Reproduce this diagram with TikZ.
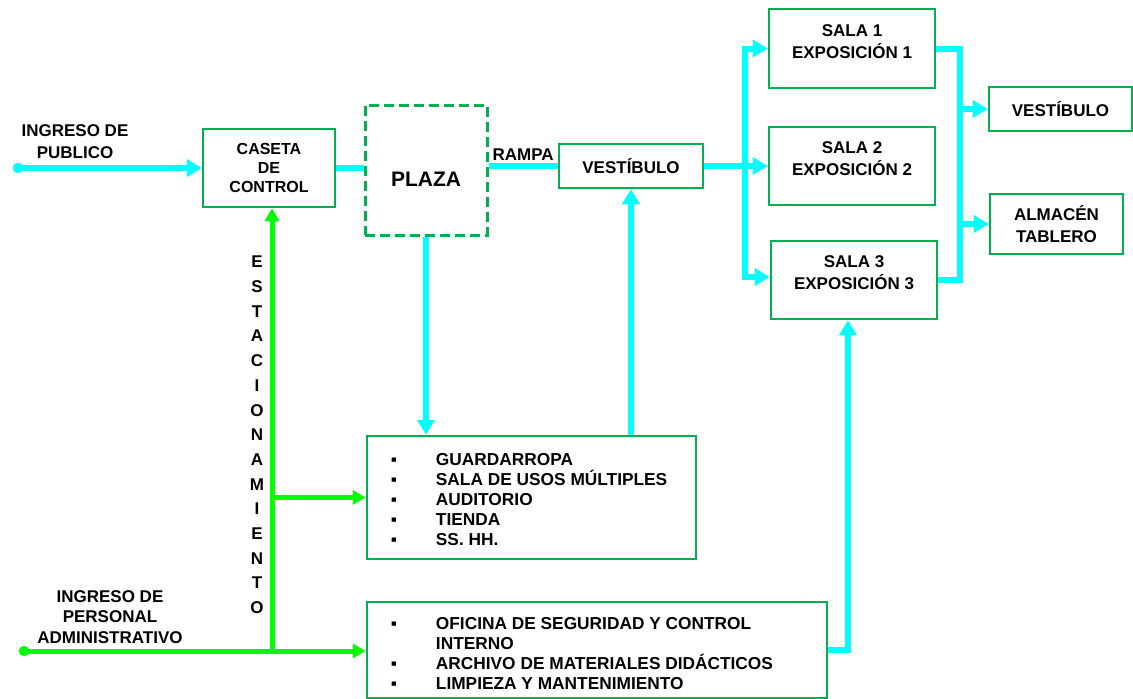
\documentclass[tikz,border=0pt]{standalone}
\usepackage{fontspec}
\setmainfont{Liberation Sans}
\usepackage{xcolor}
\definecolor{cBox}{HTML}{00B050}
\definecolor{cCyan}{HTML}{00FFFF}
\definecolor{cLime}{HTML}{00FF00}
\usepackage{tikz}
\usetikzlibrary{positioning,arrows.meta,calc}
\tikzset{
  node-box/.style={draw=cBox,line width=2.5pt,inner sep=0pt,align=center,
    font=\fontsize{17}{22}\selectfont\bfseries},
  node-plaza/.style={draw=cBox,line width=3pt,dash pattern=on 10pt off 5pt,inner sep=0pt},
  txt/.style={inner sep=0pt,align=center,font=\fontsize{17}{21}\selectfont\bfseries},
  txt-list/.style={inner sep=0pt,align=left,anchor=north west,
    font=\fontsize{17.3}{20}\selectfont\bfseries},
  line-cyan/.style={line width=6pt,draw=cCyan},
  arrow-cyan/.style={line-cyan,-{Triangle[length=15pt,width=17pt]}},
  arrow-lime/.style={line width=5pt,draw=cLime,-{Triangle[length=13pt,width=14pt]}},
}
\newcommand{\itm}{\makebox[45pt][l]{▪}}

\begin{document}
\begin{tikzpicture}[x=1pt,y=-1pt]
  \useasboundingbox (0,0) rectangle (1133,699);
  % cajas
  \node[node-box,minimum width=132pt,minimum height=78pt,
    font=\fontsize{16}{19}\selectfont\bfseries] (caseta) at (269,168) {CASETA\\DE\\CONTROL};
  \node[node-plaza,minimum width=122pt,minimum height=130pt] (plaza) at (426,170) {};
  \node[txt,font=\fontsize{21}{25}\selectfont\bfseries] (plazatxt)
    at ([yshift=-9pt]plaza.center) {PLAZA};
  \node[node-box,minimum width=144pt,minimum height=44pt] (vest) at (631,166) {VESTÍBULO};
  \node[node-box,minimum width=166pt,minimum height=79pt] (sala1) at (852,48.5) {};
  \node[txt,font=\fontsize{17}{22}\selectfont\bfseries] (sala1txt)
    at ([yshift=7pt]sala1.center) {SALA 1\\EXPOSICIÓN 1};
  \node[node-box,minimum width=166pt,minimum height=78pt] (sala2) at (852,166) {};
  \node[txt,font=\fontsize{17}{22}\selectfont\bfseries] (sala2txt)
    at ([yshift=7pt]sala2.center) {SALA 2\\EXPOSICIÓN 2};
  \node[node-box,minimum width=166pt,minimum height=78pt] (sala3) at (854,280) {};
  \node[txt,font=\fontsize{17}{22}\selectfont\bfseries] (sala3txt)
    at ([yshift=7pt]sala3.center) {SALA 3\\EXPOSICIÓN 3};
  \node[node-box,minimum width=143pt,minimum height=44pt] (vest2) at (1060.5,109) {VESTÍBULO};
  \node[node-box,minimum width=133pt,minimum height=60pt] (almacen) at (1056.5,224) {ALMACÉN\\TABLERO};
  \node[node-box,minimum width=329pt,minimum height=123pt] (usos) at (531.5,497.5) {};
  \node[txt-list] (usostxt) at ([xshift=25pt,yshift=-18pt]usos.north west)
    {\itm GUARDARROPA\\\itm SALA DE USOS MÚLTIPLES\\\itm AUDITORIO\\\itm TIENDA\\\itm SS. HH.};
  \node[node-box,minimum width=460pt,minimum height=96pt] (ofic) at (597,650) {};
  \node[txt-list] (ofictxt) at ([xshift=25pt,yshift=-16pt]ofic.north west)
    {\itm OFICINA DE SEGURIDAD Y CONTROL\\\makebox[45pt]{}INTERNO\\
     \itm ARCHIVO DE MATERIALES DIDÁCTICOS\\\itm LIMPIEZA Y MANTENIMIENTO};
  % textos sueltos
  \node[txt,font=\fontsize{17}{22}\selectfont\bfseries] (pubtxt) at (75,142) {INGRESO DE\\PUBLICO};
  \node[txt,font=\fontsize{17}{20.5}\selectfont\bfseries] (perstxt) at (110,617)
    {INGRESO DE\\PERSONAL\\ADMINISTRATIVO};
  \node[txt,font=\fontsize{17}{24.7}\selectfont\bfseries] (estac) at (257,435)
    {E\\S\\T\\A\\C\\I\\O\\N\\A\\M\\I\\E\\N\\T\\O};
  % circulacion publico
  \coordinate (pubin) at (13,168);
  \coordinate (jl) at (745,166);
  \coordinate (jr) at (960,166);
  \draw[arrow-cyan,{Circle[length=10pt]}-{Triangle[length=15pt,width=17pt]}] (pubin) -- (caseta.west);
  \draw[line-cyan] (caseta.east) -- (caseta.east -| plaza.west);
  \draw[line-cyan] (plaza.east |- vest.west) -- node[above=3pt,txt] (rampa) {RAMPA} (vest.west);
  \draw[arrow-cyan] (vest.east) -- (sala2.west);
  \draw[arrow-cyan] (jl) |- (sala1.west);
  \draw[arrow-cyan] (jl) |- ([yshift=3pt]sala3.west);
  \draw[line-cyan] (sala1.east) -- (sala1.east -| jr) |- (sala3.east);
  \draw[arrow-cyan] (jr |- vest2.west) -- (vest2.west);
  \draw[arrow-cyan] (jr |- almacen.west) -- (almacen.west);
  \draw[arrow-cyan] (plaza.south) -- (plaza.south |- usos.north);
  \draw[arrow-cyan] (usos.north -| vest.south) -- (vest.south);
  \draw[arrow-cyan] (ofic.east) -| ([xshift=-6pt]sala3.south);
  % circulacion personal
  \coordinate (persin) at (19,651);
  \coordinate (jg) at (272,651);
  \draw[arrow-lime,{Circle[length=10pt]}-{Triangle[length=13pt,width=14pt]}] (persin) -- (persin -| ofic.west);
  \draw[arrow-lime] (jg) -- (jg |- caseta.south);
  \draw[arrow-lime] (jg |- usos.west) -- (usos.west);
\end{tikzpicture}
\end{document}
